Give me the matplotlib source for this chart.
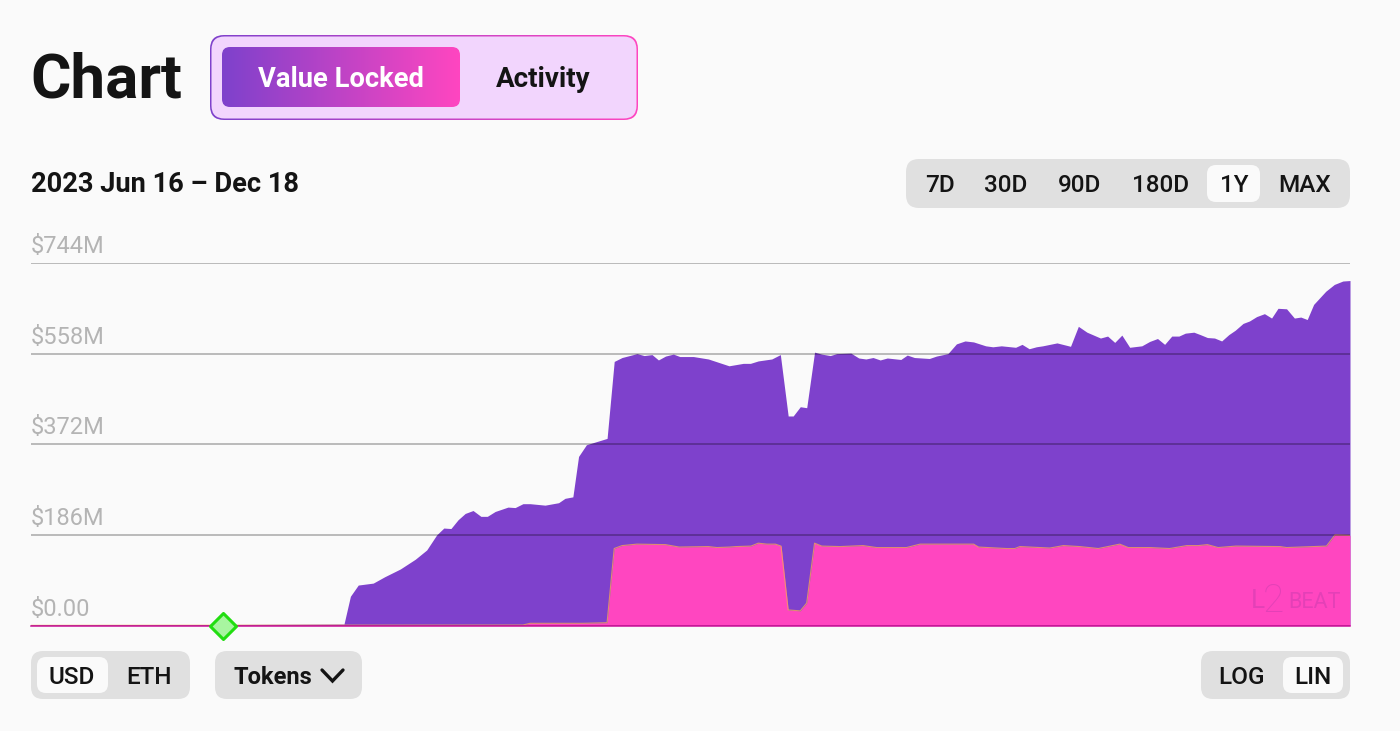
import matplotlib
matplotlib.use("Agg")
import matplotlib.pyplot as plt
import numpy as np
from matplotlib.patches import FancyBboxPatch
from matplotlib.markers import MarkerStyle
from matplotlib.colors import LinearSegmentedColormap
from matplotlib.transforms import ScaledTranslation

plt.rcParams['font.family'] = ['Roboto', 'DejaVu Sans']

# ---- data (days since range start, $M) ----
total_days = [0, 43.9, 44.8, 45.9, 48.0, 49.6, 51.8, 53.9, 55.5, 56.9, 57.9, 58.9, 59.9, 60.9, 62.0, 63.1, 64.0, 65.1,
              66.9, 67.9, 69.0, 70.0, 72.1, 74.0, 74.9, 76.0, 76.8, 77.9, 80.8, 81.8, 82.9, 85.0, 86.0, 87.1, 88.0,
              89.0, 90.1, 91.0, 92.9, 95.0, 97.9, 99.9, 100.9, 102.0, 103.9, 105.1, 106.2, 106.9, 107.9, 108.8,
              109.9, 110.9, 112.1, 113.0, 115.0, 116.1, 117.1, 118.1, 119.1, 120.1, 122.0, 122.9, 123.9, 126.0,
              127.0, 128.6, 129.8, 131.0, 132.2, 133.9, 134.9, 136.1, 138.1, 139.0, 140.0, 141.0, 141.9, 143.9,
              145.8, 146.9, 148.1, 150.0, 151.0, 152.0, 153.0, 154.1, 155.8, 156.9, 158.0, 159.0, 160.0, 161.0,
              161.9, 163.1, 164.0, 165.0, 166.0, 167.0, 168.0, 168.9, 170.0, 170.9, 171.9, 173.0, 174.0, 174.9,
              176.1, 177.2, 178.1, 179.0, 179.9, 181.6, 182.8, 184.0, 185.0]
total_value = [0.5, 3, 60, 83, 87, 100, 116, 136, 155, 186, 200, 199, 217, 230, 236, 224, 224, 234,
               243, 242, 250, 250, 247, 252, 261, 264, 347, 371, 384, 542, 550, 558, 554, 556, 545,
               553, 557, 552, 552, 547, 533, 538, 538, 543, 547, 556, 430, 430, 449, 447,
               561, 557, 554, 558, 559, 549, 547, 550, 545, 549, 546, 555, 550, 548,
               553, 558, 578, 584, 582, 574, 572, 574, 571, 577, 568, 572, 574, 580,
               573, 614, 602, 590, 594, 581, 596, 571, 574, 583, 589, 577, 594, 594,
               600, 602, 597, 591, 590, 584, 597, 606, 620, 625, 634, 640, 631, 651,
               650, 631, 633, 628, 659, 686, 700, 707, 708]
token_days = [0, 69.0, 70.0, 77.4, 80.8, 81.8, 82.9, 85.0, 89.0, 90.9, 95.0, 96.2, 98.0, 98.9, 101.0, 102.0, 103.2,
              104.4, 105.2, 106.2, 107.9, 108.8, 109.9, 110.9, 113.5, 116.7, 118.6, 122.8, 124.7, 132.2, 132.9,
              136.8, 138.0, 138.7, 142.9, 144.8, 147.1, 149.7, 152.7, 153.9, 156.9, 159.7, 162.1, 163.7, 165.0,
              166.5, 169.0, 175.2, 176.1, 181.7, 182.9, 185.0]
token_value = [0.3, 1, 4.5, 4.5, 5.7, 158, 164, 167, 166, 161, 162, 160, 161, 162, 163, 169, 167,
               167, 163, 32, 30, 46, 169, 163, 162, 164, 160, 160, 167, 167, 161,
               158, 158, 162, 159, 164, 162, 158, 167, 160, 160, 158, 164, 164, 166,
               160, 163, 162, 160, 163, 186, 185]
y_ticks = [0, 186, 372, 558, 744]
y_labels = ['$0.00', '$186M', '$372M', '$558M', '$744M']
milestone_day = [26.9]
milestone_value = [0]
range_labels = ['7D', '30D', '90D', '180D', '1Y', 'MAX']
range_centers = [939.5, 1006, 1080, 1161, 1234, 1305]

PURPLE = '#7E41CC'
PINK = '#FF46C0'
BG = '#FAFAFA'
BTN = '#E0E0E0'
INK = '#141414'
W, H = 1400, 731

fig = plt.figure(figsize=(14, 7.31), dpi=100, facecolor=BG)

# overlay for the page controls, in page pixels
ui = fig.add_axes([0, 0, 1, 1], zorder=3)
ui.patch.set_alpha(0)
ui.axis('off')


def box(x0, y0, x1, y1, r, fc, ec='none', lw=0, z=2):
    p = FancyBboxPatch((x0 + r, y0 + r), x1 - x0 - 2 * r, y1 - y0 - 2 * r,
                       boxstyle=f'round,pad={r},rounding_size={r}', fc=fc, ec=ec, lw=lw, zorder=z)
    ui.add_patch(p)
    return p


grad = LinearSegmentedColormap.from_list('g', [PURPLE, PINK])
ramp = np.linspace(0, 1, 256).reshape(1, -1)


def grad_box(x0, y0, x1, y1, r, z):
    clip = box(x0, y0, x1, y1, r, 'none', z=z)
    im = ui.imshow(ramp, cmap=grad, extent=(x0, x1, y1, y0), aspect='auto', zorder=z, interpolation='bilinear')
    im.set_clip_path(clip)


grad_box(210, 35, 638, 120, 14, 1)
box(211.5, 36.5, 636.5, 118.5, 13, '#F2D5FD', z=2)
grad_box(222, 47, 460, 107, 8, 3)

ui.text(30, 97, 'Chart', fontsize=44.6, fontweight='bold', color=INK, va='baseline', ha='left', zorder=5)
ui.text(341, 87, 'Value Locked', fontsize=19.7, fontweight='bold', color='white', ha='center', va='baseline', zorder=5)
ui.text(543, 87, 'Activity', fontsize=20, fontweight='bold', color=INK, ha='center', va='baseline', zorder=5)
ui.text(31, 192, '2023 Jun 16 – Dec 18', fontsize=19.65, fontweight='bold', color=INK, ha='left', va='baseline', zorder=5)

box(906, 159, 1350, 208, 13, BTN)
box(1207, 165, 1260, 202, 9, '#FAFAFA', z=3)
for lab, cx in zip(range_labels, range_centers):
    ui.text(cx, 192, lab, fontsize=17.5, fontweight='medium', color=INK, ha='center', va='baseline', zorder=5)

box(31, 651, 190, 699, 12, BTN)
box(37, 657, 108, 693, 9, '#FAFAFA', z=3)
ui.text(72, 684, 'USD', fontsize=17.5, fontweight='medium', color=INK, ha='center', va='baseline', zorder=5)
ui.text(149, 684, 'ETH', fontsize=17.5, fontweight='medium', color=INK, ha='center', va='baseline', zorder=5)

box(215, 651, 362, 699, 12, BTN)
ui.text(233, 684, 'Tokens', fontsize=17, fontweight='bold', color=INK, ha='left', va='baseline', zorder=5)
ui.plot([322, 332.5, 343], [670, 681, 670], color=INK, lw=2.4, solid_capstyle='round', solid_joinstyle='miter', zorder=5)

box(1201, 651, 1350, 699, 12, BTN)
box(1283, 657, 1343, 693, 9, '#FAFAFA', z=3)
ui.text(1241, 684, 'LOG', fontsize=17.5, fontweight='medium', color=INK, ha='center', va='baseline', zorder=5)
ui.text(1313, 684, 'LIN', fontsize=17.5, fontweight='medium', color=INK, ha='center', va='baseline', zorder=5)

ui.set_xlim(0, W)
ui.set_ylim(H, 0)

# ---- chart ----
ax = fig.add_axes([31 / W, (H - 625.5) / H, (1350 - 31) / W, (625.5 - 263) / H], zorder=2)
ax.patch.set_alpha(0)
ax.fill_between(total_days, total_value, 0, color=PURPLE, lw=0, zorder=1)
ax.fill_between(token_days, token_value, 0, color=PINK, lw=0, zorder=2)
ax.plot(token_days, token_value, color='#F5A05A', lw=0.8, alpha=0.8, zorder=2.5)
ax.set_xlim(0, 185)
ax.set_ylim(0, 744)
ax.set_xticks([])
ax.set_yticks(y_ticks, y_labels)
ax.grid(axis='y', color='black', alpha=0.3, lw=1.2, zorder=3)
ax.set_axisbelow(False)
ax.tick_params(axis='y', length=0, pad=0, labelsize=17, labelcolor='#B4B4B4')
shift = ScaledTranslation(0, 5 / 100, fig.dpi_scale_trans)
for t in ax.get_yticklabels():
    t.set_ha('left')
    t.set_va('bottom')
    t.set_transform(t.get_transform() + shift)
for s in ax.spines.values():
    s.set_visible(False)
ax.axhline(0, color='#C9109A', lw=1.1, zorder=4, clip_on=False)
ax.plot(milestone_day, milestone_value, marker=MarkerStyle('D', joinstyle='round'), ms=13.5, mfc='#A8F5A0',
        mec='#22DD11', mew=2.2, ls='none', zorder=6, clip_on=False)

# watermark
ui.text(1251, 608, 'L', fontsize=19, family=['Liberation Sans Narrow', 'Roboto'], color='#6A2A90', alpha=0.18,
        ha='left', va='baseline', zorder=5)
ui.text(1263, 612, '2', fontsize=28, fontweight='light', color='#6A2A90', alpha=0.18, ha='left', va='baseline', zorder=5)
ui.text(1288, 608, 'BEAT', fontsize=15.5, family=['Liberation Sans Narrow', 'Roboto'], color='#6A2A90', alpha=0.18,
        ha='left', va='baseline', zorder=5)

fig.savefig('out.png', dpi=100, facecolor=BG)
